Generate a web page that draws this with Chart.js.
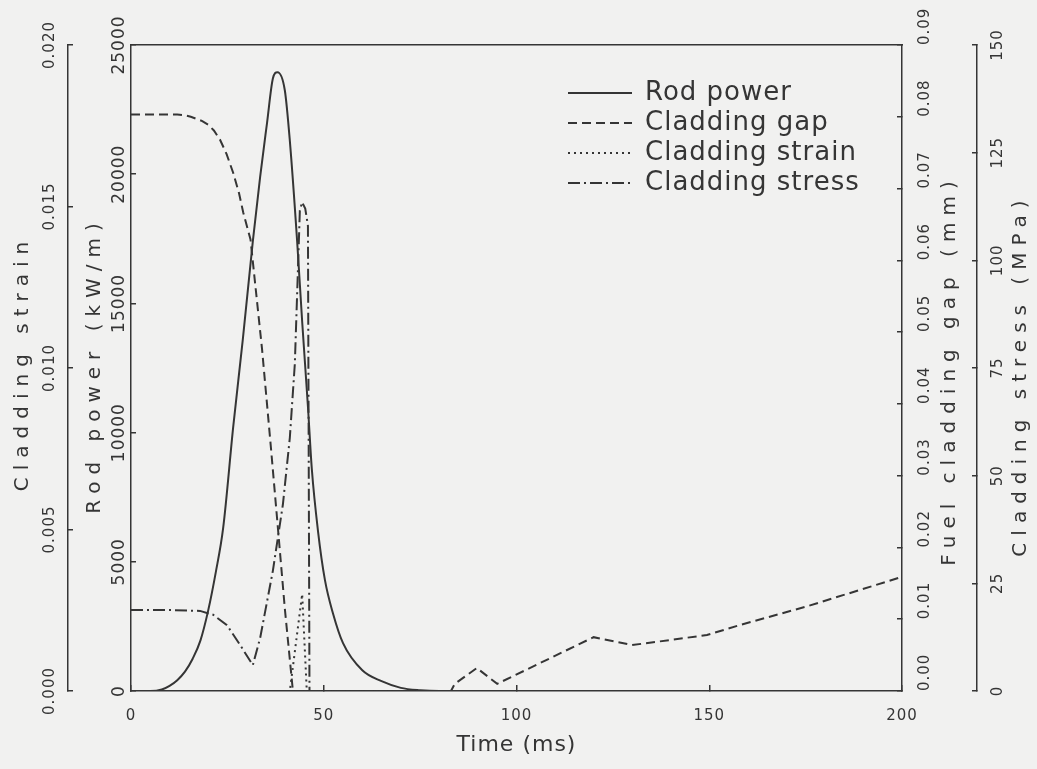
<!DOCTYPE html>
<html>
<head>
<meta charset="utf-8">
<title>Rod power, cladding gap, strain and stress</title>
<script src="https://cdn.jsdelivr.net/npm/chart.js@4.4.1/dist/chart.umd.min.js"></script>
<style>
  html, body { margin: 0; padding: 0; background: #f1f1f0; }
  #wrap { width: 1037px; height: 769px; }
</style>
</head>
<body>
<div id="wrap"><canvas id="rodChart" width="1037" height="769"></canvas></div>
<script>
// ---- data ----
const timeTicks = [0, 50, 100, 150, 200];

const powerTime = [0, 5, 8, 10, 12, 14, 16, 18, 20, 22, 23.9, 26.5, 29, 31.6, 33.5, 35.3, 36.8, 38, 39.9, 41.2, 43.1, 44.4, 45.9, 46.9, 48.5, 50.3, 52.4, 55, 60, 65, 70, 75, 80, 200];
const powerKW   = [0, 0, 60, 200, 420, 750, 1250, 1950, 3100, 4600, 6300, 10200, 13600, 17400, 19900, 22000, 23700, 23950, 23250, 21300, 17400, 14300, 11000, 8600, 6200, 4300, 3000, 1850, 800, 380, 120, 30, 0, 0];

const gapTime = [0, 12, 14, 15.5, 17, 18.5, 20, 21.5, 23.1, 24.8, 26.5, 28, 29.1, 31, 34, 36.1, 37.9, 39.9, 42, 83, 84, 89.7, 95, 120, 130, 137, 149.4, 158, 175.4, 200];
const gapMM   = [0.0803, 0.0803, 0.0802, 0.0800, 0.0797, 0.0794, 0.0789, 0.0781, 0.0768, 0.0748, 0.0722, 0.0694, 0.0667, 0.0629, 0.0476, 0.0351, 0.024, 0.0115, 0, 0, 0.001, 0.0032, 0.001, 0.0075, 0.0064, 0.0069, 0.0078, 0.0092, 0.0118, 0.0159];

const strainTime = [0, 41.2, 44.4, 45.6, 200];
const strainVal  = [0, 0, 0.003, 0, 0];

const stressTime = [0, 10, 17.9, 21.3, 24.9, 28.3, 31.6, 33.5, 36.8, 39.4, 41.2, 42.5, 43.3, 43.8, 44.4, 45.2, 45.9, 46.3, 200];
const stressMPa  = [18.8, 18.8, 18.6, 17.7, 15.3, 10.7, 6.0, 12.3, 27.9, 43.3, 58.8, 76, 97.7, 111.6, 113.5, 112, 108, 0, 0];

const powerTicks  = [0, 5000, 10000, 15000, 20000, 25000];
const strainTicks = [0, 0.005, 0.010, 0.015, 0.020];
const gapTicks    = [0, 0.01, 0.02, 0.03, 0.04, 0.05, 0.06, 0.07, 0.08, 0.09];
const stressTicks = [0, 25, 50, 75, 100, 125, 150];

const seriesNames = ['Rod power', 'Cladding gap', 'Cladding strain', 'Cladding stress'];

const yTitles = [
  { axis: 'yStrain', text: 'Cladding strain', dx: 23, dy: -5 },
  { axis: 'yPower',  text: 'Rod power (kW/m)', dx: 27, dy: -3 },
  { axis: 'yGap',    text: 'Fuel cladding gap (mm)', dx: 48, dy: 2 },
  { axis: 'yStress', text: 'Cladding stress (MPa)', dx: 44, dy: 7 }
];

const INK = '#353535';
Chart.defaults.font.family = 'DejaVu Sans';
Chart.defaults.color = INK;

function pts(xs, ys) {
  return xs.map((x, i) => ({ x: x, y: ys[i] }));
}

function fixedTicks(values) {
  return (scale) => { scale.ticks = values.map(v => ({ value: v })); };
}

// plotter-style lettering is widely spaced
const spacing = {
  id: 'spacing',
  beforeUpdate(chart) { chart.ctx.letterSpacing = '1px'; },
  beforeDraw(chart) { chart.ctx.letterSpacing = '1px'; }
};

// legend sits inside the plot, upper right
const legendSpot = {
  id: 'legendSpot',
  afterLayout(chart) {
    const lg = chart.legend;
    if (!lg) return;
    lg.left = 564; lg.top = 76;
    lg.right = lg.left + lg.width;
    lg.bottom = lg.top + 130;
    lg.height = 130;
  }
};

// vertical axis titles, all reading bottom to top
const axisTitles = {
  id: 'axisTitles',
  afterDraw(chart) {
    const ctx = chart.ctx;
    const area = chart.chartArea;
    const midY = (area.top + area.bottom) / 2;
    yTitles.forEach(t => {
      const sc = chart.scales[t.axis];
      ctx.save();
      ctx.letterSpacing = '7px';
      ctx.font = '20px "DejaVu Sans"';
      ctx.fillStyle = INK;
      ctx.textAlign = 'center';
      ctx.textBaseline = 'middle';
      ctx.translate(sc.left + t.dx, midY + t.dy);
      ctx.rotate(-Math.PI / 2);
      ctx.fillText(t.text, 0, 0);
      ctx.restore();
    });
  }
};

function yAxis(pos, weight, width, min, max, tickVals, fmt, fontSize, align, pad) {
  return {
    type: 'linear',
    position: pos,
    weight: weight,
    min: min,
    max: max,
    afterBuildTicks: fixedTicks(tickVals),
    afterFit: (s) => { s.width = width; },
    ticks: {
      autoSkip: false,
      minRotation: 90,
      maxRotation: 90,
      crossAlign: align,
      padding: pad,
      color: INK,
      font: { size: fontSize },
      callback: fmt
    },
    grid: { drawOnChartArea: false, drawTicks: true, tickLength: -5, color: INK, lineWidth: 1.5 },
    border: { display: true, color: INK, width: 1.5 }
  };
}

const lineBase = {
  borderColor: INK,
  backgroundColor: INK,
  borderWidth: 2,
  pointRadius: 0,
  fill: false
};

new Chart(document.getElementById('rodChart'), {
  type: 'line',
  data: {
    datasets: [
      { ...lineBase, label: seriesNames[0], data: pts(powerTime, powerKW), yAxisID: 'yPower', cubicInterpolationMode: 'monotone' },
      { ...lineBase, label: seriesNames[1], data: pts(gapTime, gapMM), yAxisID: 'yGap', borderDash: [9, 5] },
      { ...lineBase, label: seriesNames[2], data: pts(strainTime, strainVal), yAxisID: 'yStrain', borderDash: [2, 4] },
      { ...lineBase, label: seriesNames[3], data: pts(stressTime, stressMPa), yAxisID: 'yStress', borderDash: [12, 4, 2, 4] }
    ]
  },
  options: {
    responsive: false,
    animation: false,
    devicePixelRatio: 1,
    layout: { padding: { left: 0, right: 0, top: 45, bottom: 0 } },
    plugins: {
      tooltip: { enabled: false },
      legend: {
        position: 'chartArea',
        align: 'start',
        labels: {
          usePointStyle: true,
          pointStyle: 'line',
          pointStyleWidth: 64,
          padding: 4,
          color: INK,
          font: { size: 26 },
          generateLabels(chart) {
            const items = Chart.defaults.plugins.legend.labels.generateLabels(chart);
            items.forEach(it => {
              const ds = chart.data.datasets[it.datasetIndex];
              it.lineDash = ds.borderDash || [];
              it.lineWidth = 2;
              it.strokeStyle = INK;
            });
            return items;
          }
        }
      }
    },
    scales: {
      x: {
        type: 'linear',
        position: 'bottom',
        min: 0,
        max: 200,
        afterBuildTicks: fixedTicks(timeTicks),
        afterFit: (s) => { s.height = 78; },
        ticks: { autoSkip: false, maxRotation: 0, padding: 22, color: INK, font: { size: 15 } },
        grid: { drawOnChartArea: false, drawTicks: true, tickLength: -6, color: INK, lineWidth: 1.5 },
        border: { display: true, color: INK, width: 1.5 },
        title: { display: true, text: 'Time (ms)', color: INK, font: { size: 22 }, padding: { top: 0, bottom: 11 } }
      },
      xTop: {
        type: 'linear',
        position: 'top',
        min: 0,
        max: 200,
        afterFit: (s) => { s.height = 0; },
        ticks: { display: false },
        grid: { display: false },
        border: { display: true, color: INK, width: 1.5 }
      },
      yPower: yAxis('left', 0, 63, 0, 25000, powerTicks, v => String(v), 17, 'center', -13.5),
      yStrain: yAxis('left', 10, 68, 0, 0.02, strainTicks, v => v.toFixed(3), 15, 'center', -1),
      yGap: yAxis('right', 0, 75, 0, 0.09, gapTicks, v => v.toFixed(2), 15, 'near', 28),
      yStress: yAxis('right', 10, 60, 0, 150, stressTicks, v => String(v), 15, 'center', 10.2)
    }
  },
  plugins: [spacing, legendSpot, axisTitles]
});
</script>
</body>
</html>
